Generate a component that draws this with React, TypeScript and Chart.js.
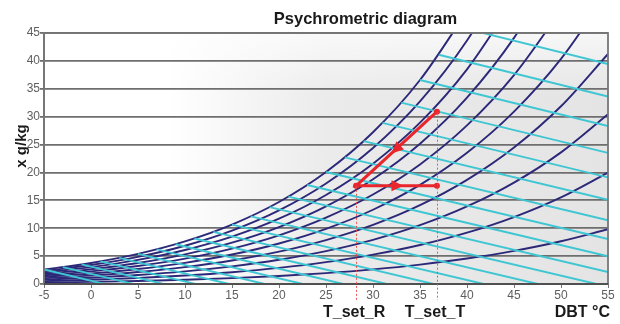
import React, { useEffect, useRef } from "react";
import { Chart, registerables } from "chart.js";

Chart.register(...registerables);

// Dry bulb temperature grid (°C)
const TEMPS = [-5, 0, 5, 10, 15, 20, 25, 30, 35, 40, 45, 50, 55];

// Relative humidity curves: moisture content x (g/kg) at each temperature
const RH10 = [0.259, 0.375, 0.536, 0.755, 1.049, 1.439, 1.951, 2.617, 3.473, 4.564, 5.943, 7.671, 9.822];
const RH20 = [0.518, 0.751, 1.073, 1.512, 2.101, 2.885, 3.915, 5.256, 6.986, 9.197, 12.001, 15.533, 19.96];
const RH30 = [0.778, 1.128, 1.611, 2.27, 3.157, 4.337, 5.891, 7.918, 10.537, 13.898, 18.176, 23.595, 30.43];
const RH40 = [1.037, 1.505, 2.15, 3.03, 4.216, 5.796, 7.88, 10.602, 14.13, 18.669, 24.47, 31.86, 41.24];
const RH50 = [1.297, 1.882, 2.69, 3.792, 5.279, 7.262, 9.882, 13.31, 17.763, 23.513, 30.9, 40.35, 52.42];
const RH60 = [1.557, 2.259, 3.23, 4.557, 6.346, 8.735, 11.896, 16.04, 21.439, 28.43, 37.45, 49.05, null];
const RH70 = [1.817, 2.637, 3.772, 5.322, 7.416, 10.215, 13.922, 18.795, 25.156, 33.42, 44.13, 57.99, null];
const RH80 = [2.078, 3.016, 4.315, 6.09, 8.49, 11.7, 15.963, 21.573, 28.918, 38.49, 50.95, null, null];
const RH90 = [2.339, 3.395, 4.858, 6.86, 9.568, 13.195, 18.016, 24.376, 32.722, 43.64, 57.92, null, null];
const RH100 = [2.6, 3.775, 5.403, 7.632, 10.65, 14.7, 20.08, 27.2, 36.57, 48.87, null, null, null];
const RH_CURVES = [RH10, RH20, RH30, RH40, RH50, RH60, RH70, RH80, RH90, RH100];

// Enthalpy lines: start on saturation curve, end on x = 0 or at the right edge
const ENTH_T0 = [-5, -3, -1, 1, 3, 5, 7, 9, 11, 13, 15, 17, 19, 21, 23, 25, 27, 29, 31, 33, 35, 37, 39];
const ENTH_X0 = [2.6, 3.021, 3.507, 4.06, 4.689, 5.403, 6.213, 7.128, 8.165, 9.334, 10.65, 12.127, 13.791, 15.656, 17.745, 20.08, 22.708, 25.619, 28.882, 32.514, 36.57, 41.095, 46.138];
const ENTH_T1 = [1.44, 4.49, 7.71, 11.1, 14.68, 18.48, 22.52, 26.84, 31.46, 36.43, 41.77, 47.53, 53.77, 55, 55, 55, 55, 55, 55, 55, 55, 55, 55];
const ENTH_X1 = [0, 0, 0, 0, 0, 0, 0, 0, 0, 0, 0, 0, 0, 2.136, 4.974, 8.055, 11.436, 15.096, 19.114, 23.501, 28.318, 33.611, 39.427];

// Process path (A -> B -> C)
const PROCESS_T = [36.8, 28.2, 36.8];
const PROCESS_X = [30.9, 17.6, 17.6];

// Set-point markers under the axis
const T_SET_LABELS = ["T_set_R", "T_set_T"];
const T_SET_VALUES = [28.2, 36.8];

// Axis ranges / ticks
const X_MIN = -5;
const X_MAX = 55;
const X_STEP = 5;
const Y_MIN = 0;
const Y_MAX = 45;
const Y_STEP = 5;

const TITLE = "Psychrometric diagram";
const Y_TITLE = "x g/kg";
const X_TITLE = "DBT °C";

const FONT = "'Liberation Sans', Arial, sans-serif";
const NAVY = "#2c2878";
const CYAN = "#3ec6d2";
const RED = "#e8262c";

const decorPlugin = {
  id: "decor",
  beforeDraw(chart: any) {
    const { ctx, chartArea: a } = chart;
    ctx.save();
    const g = ctx.createLinearGradient(a.left, 0, a.right, 0);
    g.addColorStop(0, "#ffffff");
    g.addColorStop(0.22, "#ffffff");
    g.addColorStop(0.5, "#ebebeb");
    g.addColorStop(1, "#e4e4e4");
    ctx.fillStyle = g;
    ctx.fillRect(a.left, a.top, a.right - a.left, a.bottom - a.top);
    const v = ctx.createLinearGradient(0, a.top, 0, a.bottom);
    v.addColorStop(0, "rgba(255,255,255,0.7)");
    v.addColorStop(0.25, "rgba(255,255,255,0.0)");
    v.addColorStop(1, "rgba(255,255,255,0.0)");
    ctx.fillStyle = v;
    ctx.fillRect(a.left, a.top, a.right - a.left, a.bottom - a.top);
    ctx.restore();
  },
  afterDatasetsDraw(chart: any) {
    const { ctx, chartArea: a, scales } = chart;
    const xs = scales.x;
    const ys = scales.y;
    ctx.save();
    // frame
    ctx.strokeStyle = "#767676";
    ctx.lineWidth = 1.8;
    ctx.strokeRect(a.left, a.top, a.right - a.left, a.bottom - a.top);
    ctx.strokeStyle = "#505050";
    ctx.lineWidth = 2;
    ctx.beginPath();
    ctx.moveTo(a.left, a.bottom);
    ctx.lineTo(a.right, a.bottom);
    ctx.stroke();

    // dashed set-point lines
    ctx.strokeStyle = "rgba(240,70,70,0.9)";
    ctx.lineWidth = 1;
    ctx.setLineDash([2, 2]);
    T_SET_VALUES.forEach((t) => {
      let top = Y_MIN;
      PROCESS_T.forEach((pt, i) => {
        if (Math.abs(pt - t) < 0.01 && PROCESS_X[i] > top) top = PROCESS_X[i];
      });
      const px = Math.round(xs.getPixelForValue(t)) + 0.5;
      ctx.beginPath();
      ctx.moveTo(px, ys.getPixelForValue(top));
      ctx.lineTo(px, a.bottom + 16);
      ctx.stroke();
    });
    ctx.setLineDash([]);

    // arrows at the middle of each process segment
    ctx.fillStyle = RED;
    for (let i = 0; i < PROCESS_T.length - 1; i++) {
      const x1 = xs.getPixelForValue(PROCESS_T[i]);
      const y1 = ys.getPixelForValue(PROCESS_X[i]);
      const x2 = xs.getPixelForValue(PROCESS_T[i + 1]);
      const y2 = ys.getPixelForValue(PROCESS_X[i + 1]);
      const mx = (x1 + x2) / 2;
      const my = (y1 + y2) / 2;
      const ang = Math.atan2(y2 - y1, x2 - x1);
      ctx.save();
      ctx.translate(mx, my);
      ctx.rotate(ang);
      ctx.beginPath();
      ctx.moveTo(7, 0);
      ctx.lineTo(-5, 5.5);
      ctx.lineTo(-5, -5.5);
      ctx.closePath();
      ctx.fill();
      ctx.restore();
    }
    ctx.restore();
  },
  afterDraw(chart: any) {
    const { ctx, chartArea: a, scales } = chart;
    const xs = scales.x;
    ctx.save();
    ctx.fillStyle = "#1a1a1a";
    ctx.textBaseline = "middle";
    // title
    ctx.font = `bold 16.5px ${FONT}`;
    ctx.textAlign = "center";
    ctx.fillText(TITLE, a.left + (a.right - a.left) * 0.57, 19);
    // y title
    ctx.font = `bold 15px ${FONT}`;
    ctx.save();
    ctx.translate(22, 146);
    ctx.rotate(-Math.PI / 2);
    ctx.textAlign = "center";
    ctx.fillText(Y_TITLE, 0, 0);
    ctx.restore();
    // set-point labels
    ctx.font = `bold 16px ${FONT}`;
    ctx.textAlign = "center";
    T_SET_LABELS.forEach((lab, i) => {
      ctx.fillText(lab, xs.getPixelForValue(T_SET_VALUES[i]) - 2, a.bottom + 29);
    });
    // x title
    ctx.textAlign = "right";
    ctx.fillText(X_TITLE, a.right + 2, a.bottom + 29);
    ctx.restore();
  },
};

export default function App() {
  const ref = useRef<HTMLCanvasElement | null>(null);

  useEffect(() => {
    if (!ref.current) return;

    const rhSets = RH_CURVES.map((arr, k) => ({
      label: `RH ${(k + 1) * 10}%`,
      data: TEMPS.map((t, i) => ({ x: t, y: arr[i] })).filter((p) => p.y !== null),
      borderColor: NAVY,
      borderWidth: 1.9,
      pointRadius: 0,
      fill: false,
      cubicInterpolationMode: "monotone" as const,
    }));

    const enthSets = ENTH_T0.map((t0, i) => ({
      label: `h${i}`,
      data: [
        { x: t0, y: ENTH_X0[i] },
        { x: ENTH_T1[i], y: ENTH_X1[i] },
      ],
      borderColor: CYAN,
      borderWidth: 1.9,
      pointRadius: 0,
      fill: false,
      tension: 0,
    }));

    const processSet = {
      label: "process",
      data: PROCESS_T.map((t, i) => ({ x: t, y: PROCESS_X[i] })),
      borderColor: RED,
      backgroundColor: RED,
      borderWidth: 3,
      pointRadius: 3,
      pointBackgroundColor: RED,
      pointBorderWidth: 0,
      fill: false,
      tension: 0,
    };

    const chart = new Chart(ref.current, {
      type: "line",
      data: { datasets: [processSet, ...enthSets, ...rhSets] as any },
      options: {
        animation: false,
        responsive: false,
        devicePixelRatio: 1,
        layout: { padding: { left: 0, right: 12, top: 33, bottom: 0 } },
        plugins: {
          legend: { display: false },
          tooltip: { enabled: false },
          title: { display: false },
        },
        scales: {
          x: {
            type: "linear",
            min: X_MIN,
            max: X_MAX,
            afterFit: (s: any) => {
              s.height = 40;
            },
            ticks: {
              stepSize: X_STEP,
              color: "#5e5e5e",
              font: { family: FONT, size: 12 },
              padding: 0,
              maxRotation: 0,
            },
            grid: {
              display: true,
              drawOnChartArea: false,
              drawTicks: true,
              tickLength: 4,
              color: "#777",
            },
            border: { display: true, color: "#505050", width: 2 },
          },
          y: {
            type: "linear",
            min: Y_MIN,
            max: Y_MAX,
            afterFit: (s: any) => {
              s.width = 44;
            },
            ticks: {
              stepSize: Y_STEP,
              color: "#5e5e5e",
              font: { family: FONT, size: 12 },
              padding: 0,
            },
            grid: {
              color: "#6e6e6e",
              lineWidth: 1.8,
              drawTicks: true,
              tickLength: 4,
            },
            border: { display: true, color: "#767676", width: 1.8 },
          },
        },
      },
      plugins: [decorPlugin],
    });

    return () => chart.destroy();
  }, []);

  return (
    <div style={{ position: "absolute", left: 0, top: 0, width: 620, height: 324, background: "#fff" }}>
      <canvas ref={ref} width={620} height={324} style={{ display: "block" }} />
    </div>
  );
}
